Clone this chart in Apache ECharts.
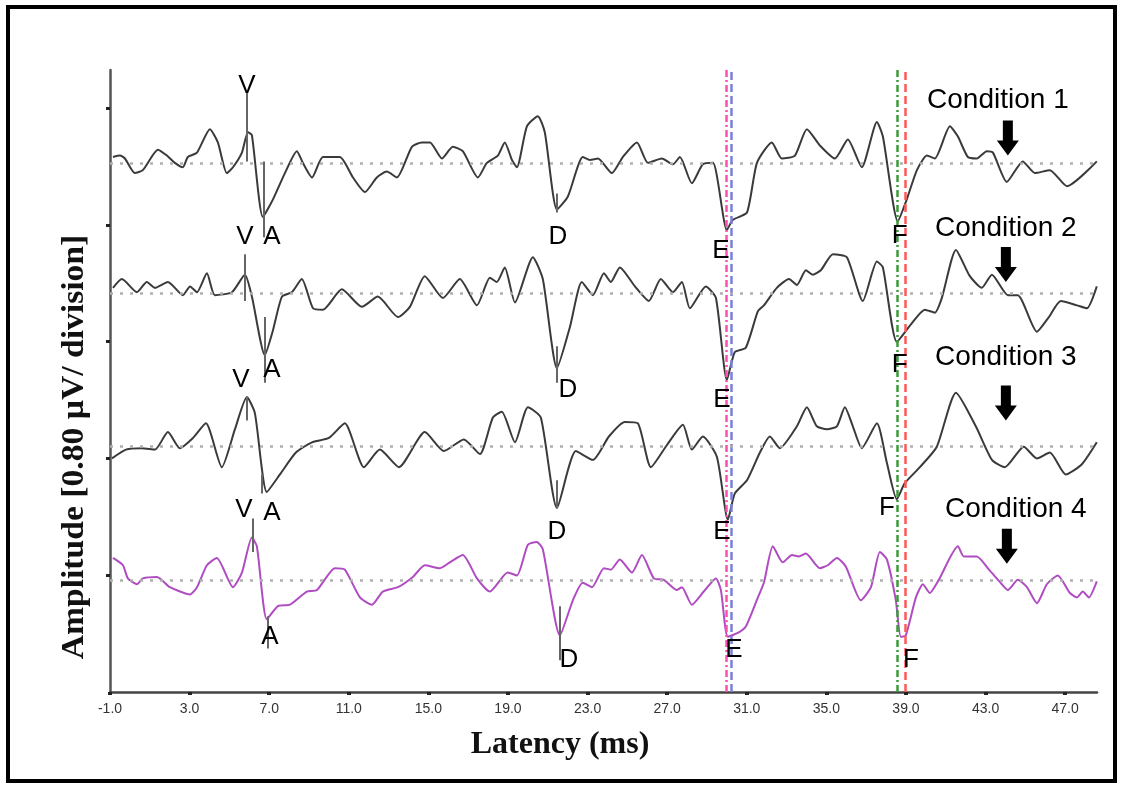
<!DOCTYPE html>
<html>
<head>
<meta charset="utf-8">
<title>ABR latency traces</title>
<script src="https://cdn.jsdelivr.net/npm/echarts@6/dist/echarts.min.js"></script>
<style>
  html, body { margin: 0; padding: 0; background: #fff; }
  #chart { width: 1125px; height: 790px; }
</style>
</head>
<body>
<div id="chart"></div>
<script>
// Axis ticks
const LATENCY_TICKS = [-1, 3, 7, 11, 15, 19, 23, 27, 31, 35, 39, 43, 47];
const DIVISION_TICKS = [1, 2, 3, 4, 5];
const UV_PER_DIVISION = 0.8;

const CONDITIONS = ['Condition 1', 'Condition 2', 'Condition 3', 'Condition 4'];
// Baseline of each trace, in divisions above the latency axis
const BASELINES = [4.53, 3.41, 2.10, 0.96];

// Waveforms: [latency ms, amplitude µV relative to the trace baseline]
const condition1Trace = [
  [-0.85,0.04],[-0.50,0.05],[-0.25,0.03],[0.25,-0.07],[0.65,-0.05],[1.41,0.09],[1.86,0.05],[2.26,0.00],[2.66,-0.03],[2.91,0.04],
  [3.37,0.07],[4.02,0.23],[4.42,0.14],[4.87,-0.07],[5.18,-0.03],[5.63,0.07],[5.93,0.21],[6.13,0.19],[6.68,-0.37],[7.19,-0.25],
  [7.79,-0.07],[8.39,0.08],[8.69,0.00],[9.15,-0.10],[9.70,0.04],[10.55,0.04],[11.21,-0.10],[11.81,-0.20],[12.41,-0.10],[12.91,-0.06],
  [13.42,-0.10],[14.17,0.11],[14.67,0.14],[15.08,0.14],[15.68,0.03],[16.23,0.11],[16.73,0.08],[17.49,-0.10],[17.94,0.00],[18.49,0.05],
  [18.84,0.14],[19.20,0.02],[19.45,-0.03],[19.95,0.25],[20.50,0.32],[20.85,0.21],[21.46,-0.32],[22.01,-0.23],[22.76,0.04],[23.12,0.02],
  [23.52,0.03],[24.22,-0.07],[24.77,0.04],[25.48,0.14],[26.03,0.00],[26.73,0.03],[27.29,-0.01],[27.64,0.04],[28.24,-0.14],[28.79,-0.01],
  [29.30,0.00],[30.00,-0.46],[30.30,-0.39],[31.01,-0.34],[31.51,0.00],[32.26,0.14],[32.76,0.03],[33.42,0.05],[34.02,0.23],[34.67,0.12],
  [35.43,0.03],[36.08,0.16],[36.78,-0.03],[37.54,0.28],[37.84,0.18],[38.59,-0.40],[39.04,-0.25],[39.55,-0.05],[40.05,0.05],[40.45,0.03],
  [41.21,0.25],[41.61,0.18],[42.11,0.04],[42.56,0.03],[43.06,0.08],[43.37,0.07],[44.07,-0.13],[44.87,0.01],[45.48,-0.07],[46.23,-0.05],
  [47.09,-0.16],[48.59,0.01]
];
const condition2Trace = [
  [-0.85,0.04],[-0.40,0.10],[0.35,0.01],[0.85,0.08],[1.26,0.04],[1.91,0.08],[2.66,-0.01],[3.02,0.05],[3.37,0.01],[3.87,0.14],
  [4.27,-0.01],[5.13,0.01],[5.78,0.13],[6.13,-0.02],[6.78,-0.42],[7.19,-0.25],[7.64,-0.02],[8.14,0.01],[8.64,0.10],[9.20,-0.10],
  [9.70,-0.11],[10.65,0.03],[11.66,-0.09],[12.46,-0.02],[13.47,-0.16],[14.07,-0.09],[14.82,0.12],[15.73,-0.03],[16.58,0.10],[17.44,-0.08],
  [18.09,0.11],[18.44,0.08],[18.84,0.18],[19.35,-0.06],[20.25,0.25],[20.75,0.10],[21.46,-0.51],[22.11,-0.23],[22.71,0.08],[23.27,-0.01],
  [23.82,0.14],[24.17,0.08],[24.62,0.18],[25.38,0.05],[26.08,-0.05],[26.68,0.10],[27.29,0.01],[27.74,0.08],[28.14,-0.10],[28.94,0.05],
  [29.45,-0.03],[30.00,-0.59],[30.40,-0.40],[30.95,-0.37],[31.56,-0.12],[31.86,-0.08],[32.51,0.04],[33.12,0.10],[33.52,0.06],[33.97,0.16],
  [34.32,0.13],[34.72,0.16],[35.33,0.27],[36.03,0.25],[36.83,-0.05],[37.54,0.22],[37.84,0.18],[38.54,-0.33],[39.25,-0.21],[39.95,-0.11],
  [40.45,-0.13],[40.80,-0.03],[41.51,0.30],[42.21,0.12],[42.81,0.04],[43.32,0.13],[44.12,-0.01],[44.62,-0.01],[45.58,-0.26],[46.18,-0.16],
  [46.78,-0.05],[47.59,-0.08],[48.09,-0.10],[48.59,0.05]
];
const condition3Trace = [
  [-0.90,-0.08],[-0.20,-0.02],[0.60,-0.01],[1.26,-0.02],[1.91,0.10],[2.51,-0.01],[3.17,0.06],[3.82,0.16],[4.62,-0.14],[5.28,0.12],
  [5.88,0.34],[6.28,0.23],[6.88,-0.31],[7.54,-0.19],[8.34,-0.04],[9.15,0.03],[10.00,0.06],[10.80,0.16],[11.76,-0.14],[12.56,-0.02],
  [13.52,-0.14],[14.82,0.10],[15.78,-0.03],[16.78,0.05],[17.59,-0.05],[18.24,0.20],[18.69,0.24],[19.35,0.03],[20.00,0.27],[20.65,0.20],
  [21.46,-0.42],[22.41,-0.03],[23.27,-0.09],[24.07,0.07],[24.87,0.17],[25.53,0.16],[26.18,-0.14],[26.98,0.01],[27.79,0.15],[28.24,-0.02],
  [28.79,0.07],[29.50,-0.07],[30.05,-0.50],[30.40,-0.32],[31.01,-0.23],[31.66,-0.04],[32.16,0.07],[32.66,-0.01],[33.52,0.14],[34.02,0.27],
  [34.52,0.14],[35.03,0.12],[35.53,0.14],[35.93,0.27],[36.33,0.14],[36.78,-0.01],[37.54,0.16],[38.04,-0.11],[38.54,-0.36],[38.94,-0.25],
  [39.70,-0.14],[40.55,0.00],[41.51,0.37],[42.51,0.14],[43.32,-0.09],[43.97,-0.14],[44.92,0.00],[45.58,-0.08],[46.23,-0.04],[47.03,-0.19],
  [47.84,-0.12],[48.59,0.03]
];
const condition4Trace = [
  [-0.85,0.15],[-0.35,0.10],[-0.10,0.01],[0.35,-0.03],[0.65,0.01],[1.36,0.02],[2.01,-0.05],[3.02,-0.10],[3.37,-0.05],[3.87,0.10],
  [4.37,0.15],[5.18,-0.05],[5.63,0.05],[6.13,0.29],[6.38,0.23],[6.88,-0.27],[7.44,-0.18],[8.04,-0.17],[8.89,-0.08],[9.40,-0.07],
  [10.30,0.08],[10.80,0.07],[11.56,-0.12],[12.16,-0.17],[12.71,-0.08],[13.47,-0.05],[14.22,0.02],[14.82,0.10],[15.58,0.08],[16.08,0.12],
  [16.73,0.17],[17.44,0.01],[18.09,-0.08],[18.99,0.05],[19.45,0.03],[20.00,0.24],[20.45,0.26],[20.75,0.21],[21.61,-0.38],[22.26,-0.14],
  [22.76,-0.02],[23.22,-0.05],[23.82,0.08],[24.17,0.07],[24.62,0.14],[25.23,0.05],[25.73,0.17],[26.33,0.01],[26.83,0.00],[27.49,-0.07],
  [27.74,-0.05],[28.24,-0.17],[28.84,-0.08],[29.45,0.01],[29.70,-0.07],[30.05,-0.39],[30.60,-0.36],[30.95,-0.32],[31.56,-0.12],[31.86,-0.02],
  [32.31,0.23],[32.81,0.12],[33.27,0.17],[33.62,0.16],[33.97,0.18],[34.67,0.08],[35.07,0.10],[35.53,0.15],[35.98,0.09],[36.73,-0.14],
  [37.24,-0.05],[37.69,0.19],[38.04,0.14],[38.49,-0.14],[38.74,-0.39],[38.99,-0.38],[39.50,-0.12],[39.85,-0.03],[40.20,-0.09],[40.65,0.00],
  [41.61,0.23],[41.91,0.16],[42.56,0.16],[43.17,0.07],[43.82,-0.03],[44.12,-0.07],[44.62,0.00],[45.08,-0.05],[45.58,-0.16],[46.08,-0.03],
  [46.63,0.03],[47.24,-0.09],[47.59,-0.12],[47.89,-0.08],[48.19,-0.12],[48.59,-0.01]
];

// Wave labels: [wave, latency ms, µV relative to baseline]
const condition1Peaks = [['V',5.88,0.53],['A',7.14,-0.51],['D',21.51,-0.51],['E',29.70,-0.60],['F',38.69,-0.50]];
const condition2Peaks = [['V',5.78,0.39],['A',7.14,-0.52],['D',22.01,-0.66],['E',29.75,-0.73],['F',38.69,-0.49]];
const condition3Peaks = [['V',5.58,0.46],['A',7.14,-0.45],['D',21.46,-0.58],['E',29.75,-0.58],['F',38.04,-0.42]];
const condition4Peaks = [['V',5.73,0.48],['A',7.04,-0.39],['D',22.06,-0.55],['E',30.35,-0.48],['F',39.25,-0.55]];

// Cursor ticks at picked waves: [latency ms, from µV, to µV]
const condition1Cursors = [[5.88,0.48,0.01],[6.73,0.01,-0.51],[21.46,-0.21,-0.34]];
const condition2Cursors = [[5.78,0.27,-0.05],[6.78,-0.16,-0.61],[21.46,-0.36,-0.61]];
const condition3Cursors = [[5.88,0.34,0.18],[6.63,-0.19,-0.32],[21.46,-0.23,-0.42]];
const condition4Cursors = [[6.18,0.42,0.19],[6.93,-0.25,-0.47],[21.61,-0.18,-0.55]];

// Condition captions and arrows: [latency ms, µV relative to baseline]
const captionAnchors = [[43.62,0.43],[44.02,0.45],[44.02,0.61],[44.52,0.48]];
const arrowAnchors = [[44.12,0.17],[44.02,0.20],[44.02,0.30],[44.07,0.23]];

// Vertical latency reference lines (ms)
const referenceLatencies = [29.95, 30.20, 38.55, 38.95];

const traces = [condition1Trace, condition2Trace, condition3Trace, condition4Trace];
const peaks = [condition1Peaks, condition2Peaks, condition3Peaks, condition4Peaks];
const cursors = [condition1Cursors, condition2Cursors, condition3Cursors, condition4Cursors];
const traceColors = ['#3a3a3a', '#3a3a3a', '#3a3a3a', '#b04cc2'];
const referenceStyles = [
  { color: '#ff4fae', type: [7, 3, 2, 3] },
  { color: '#7b7fd6', type: [8, 4] },
  { color: '#3c9a3c', type: [7, 3, 2, 3] },
  { color: '#ff5a5a', type: [8, 4] }
];

const toDiv = (i, uv) => BASELINES[i] + uv / UV_PER_DIVISION;

const series = [];
traces.forEach((tr, i) => {
  const marks = [{ yAxis: BASELINES[i], lineStyle: { type: [3, 7], color: '#b0b0b0', width: 2.5 } }];
  cursors[i].forEach(c => marks.push([{ coord: [c[0], toDiv(i, c[1])] }, { coord: [c[0], toDiv(i, c[2])] }]));
  if (i === 0) {
    referenceLatencies.forEach((x, k) => marks.push({ xAxis: x, lineStyle: { color: referenceStyles[k].color, type: referenceStyles[k].type, width: 2.5 } }));
  }
  series.push({
    type: 'line',
    name: CONDITIONS[i],
    data: tr.map(p => [p[0], toDiv(i, p[1])]),
    symbol: 'none',
    smooth: 0.2,
    lineStyle: { color: traceColors[i], width: 2 },
    z: 3,
    markLine: {
      silent: true,
      symbol: ['none', 'none'],
      label: { show: false },
      lineStyle: { color: '#666', width: 2, type: 'solid' },
      data: marks
    }
  });
});

const textLabel = size => ({
  show: true, position: 'inside', formatter: '{b}', fontSize: size,
  fontFamily: 'Liberation Sans', color: '#000', opacity: 1
});

const peakData = [];
peaks.forEach((arr, i) => arr.forEach(p => peakData.push({ name: p[0], value: [p[1], toDiv(i, p[2])] })));
series.push({
  type: 'scatter', silent: true, z: 6, symbolSize: 1,
  itemStyle: { color: '#fff', opacity: 0 },
  label: textLabel(26),
  data: peakData
});

series.push({
  type: 'scatter', silent: true, z: 6, symbolSize: 1,
  itemStyle: { color: '#fff', opacity: 0 },
  label: textLabel(28),
  data: captionAnchors.map((a, i) => ({ name: CONDITIONS[i], value: [a[0], toDiv(i, a[1])] }))
});

series.push({
  type: 'scatter', silent: true, z: 6,
  symbol: 'path://M6,0 L16,0 L16,20 L22,20 L11,35 L0,20 L6,20 Z',
  symbolSize: [22, 35],
  itemStyle: { color: '#000', opacity: 1 },
  data: arrowAnchors.map((a, i) => [a[0], toDiv(i, a[1])])
});

const chart = echarts.init(document.getElementById('chart'), null, { renderer: 'canvas' });
chart.setOption({
  animation: false,
  backgroundColor: '#fff',
  grid: { left: 110, right: 28, top: 70, bottom: 98, containLabel: false, outerBoundsMode: 'none' },
  xAxis: {
    type: 'value', min: -1, max: 48.6,
    axisLine: { show: true, onZero: false, lineStyle: { color: '#444', width: 2.5 } },
    axisTick: { show: true, customValues: LATENCY_TICKS, length: 3, lineStyle: { color: '#222', width: 4 } },
    axisLabel: { show: true, customValues: LATENCY_TICKS, margin: 10, fontSize: 14, fontFamily: 'Liberation Sans', color: '#333',
      formatter: v => v.toFixed(1) },
    splitLine: { show: false }
  },
  yAxis: {
    type: 'value', min: 0, max: 5.325,
    axisLine: { show: true, onZero: false, lineStyle: { color: '#555', width: 2.5 } },
    axisTick: { show: true, customValues: DIVISION_TICKS, length: 4, lineStyle: { color: '#222', width: 3 } },
    axisLabel: { show: false },
    splitLine: { show: false }
  },
  graphic: [
    { type: 'rect', silent: true, shape: { x: 8, y: 7, width: 1107, height: 774 }, style: { fill: 'none', stroke: '#000', lineWidth: 4 } },
    { type: 'text', silent: true, x: 75, y: 447, rotation: Math.PI / 2, scaleX: 1.05,
      style: { text: 'Amplitude [0.80 µV/ division]', fontSize: 32, fontWeight: 'bold', fontFamily: 'Liberation Serif', fill: '#111', align: 'center', verticalAlign: 'middle' } },
    { type: 'text', silent: true, x: 560, y: 745,
      style: { text: 'Latency (ms)', fontSize: 32, fontWeight: 'bold', fontFamily: 'Liberation Serif', fill: '#111', align: 'center', verticalAlign: 'middle' } }
  ],
  series: series
});
</script>
</body>
</html>
